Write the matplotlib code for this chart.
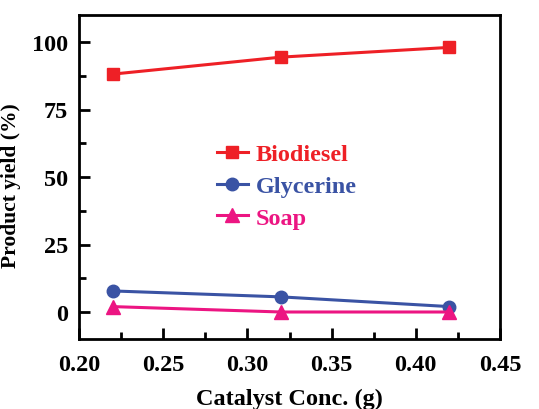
import matplotlib
matplotlib.use("Agg")
import matplotlib.pyplot as plt
from matplotlib.ticker import MultipleLocator

catalyst = [0.22, 0.32, 0.42]
biodiesel = [88.1, 94.4, 98.0]
glycerine = [7.8, 5.6, 2.0]
soap = [2.0, 0.0, 0.0]

plt.rcParams["font.family"] = ["Liberation Serif", "DejaVu Serif"]
plt.rcParams["font.weight"] = "bold"

fig = plt.figure(figsize=(5.39, 4.10), dpi=100)
ax = fig.add_axes([79 / 539, 1 - 340 / 410, 421 / 539, 324 / 410])

ax.plot(catalyst, biodiesel, color="#EE2026", marker="s", markersize=8.5,
        linewidth=2.2, label="Biodiesel")
ax.plot(catalyst, glycerine, color="#3A53A4", marker="o", markersize=9,
        linewidth=2.2, label="Glycerine")
ax.plot(catalyst, soap, color="#EC1582", marker="^", markersize=9.5,
        linewidth=2.2, label="Soap")

ax.set_xlim(0.20, 0.45)
ax.set_ylim(-10, 110)
ax.xaxis.set_major_locator(MultipleLocator(0.05))
ax.xaxis.set_minor_locator(MultipleLocator(0.025))
ax.yaxis.set_major_locator(MultipleLocator(25))
ax.yaxis.set_minor_locator(MultipleLocator(12.5))
ax.xaxis.set_major_formatter(lambda v, p: f"{v:.2f}")
ax.tick_params(which="both", direction="in", top=False, right=False, width=2)
ax.tick_params(which="major", length=8, labelsize=17.5)
ax.tick_params(axis="x", which="major", pad=11)
ax.tick_params(axis="y", which="major", pad=8)
ax.tick_params(which="minor", length=5)
for s in ax.spines.values():
    s.set_linewidth(2)

ax.set_xlabel("Catalyst Conc. (g)", fontsize=17.5, fontweight="bold", labelpad=9)
ax.set_ylabel("Product yield (%)", fontsize=15.5, fontweight="bold")
ax.yaxis.set_label_coords(-0.138, 0.478)

leg = ax.legend(loc="upper left", bbox_to_anchor=(0.305, 0.634), frameon=False,
                fontsize=17.5, handlelength=1.25, handletextpad=0.35,
                labelspacing=0.4, borderaxespad=0)
for text, line in zip(leg.get_texts(), leg.get_lines()):
    text.set_color(line.get_color())
    text.set_fontweight("bold")

fig.savefig("out.png", dpi=100)
